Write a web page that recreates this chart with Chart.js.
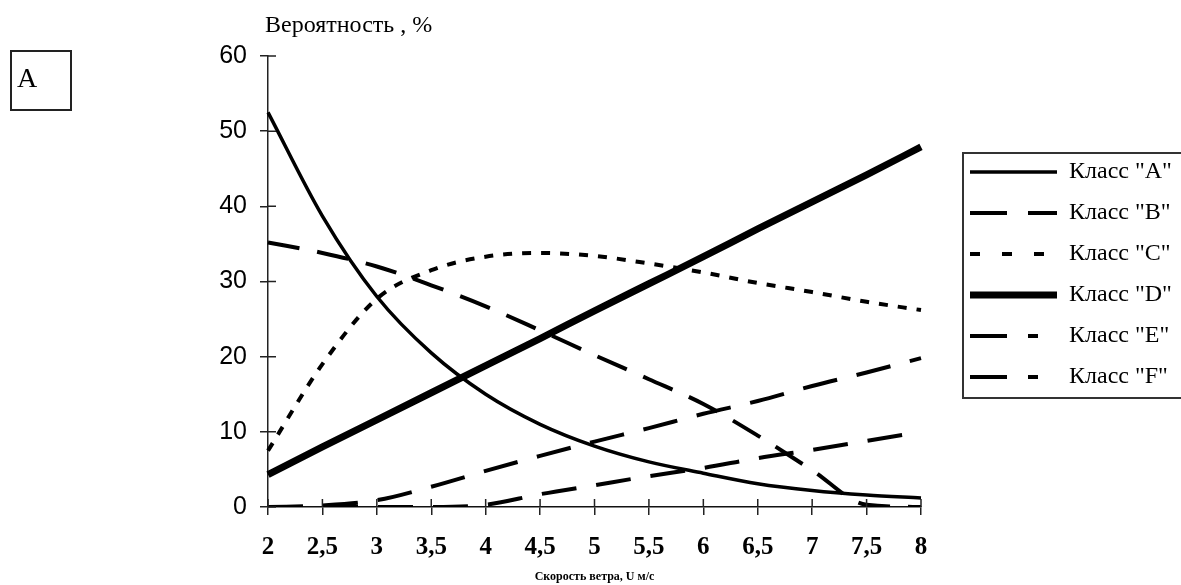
<!DOCTYPE html>
<html>
<head>
<meta charset="utf-8">
<script src="https://cdn.jsdelivr.net/npm/chart.js@4.4.8/dist/chart.umd.min.js"></script>
<style>
  html, body { margin: 0; padding: 0; background: #fff; }
  #wrap { width: 1181px; height: 585px; }
</style>
</head>
<body>
<div id="wrap"><canvas id="probChart" width="1181" height="585"></canvas></div>
<script>
const windSpeed = ["2", "2,5", "3", "3,5", "4", "4,5", "5", "5,5", "6", "6,5", "7", "7,5", "8"];

const classA = [52.5, 38.7, 28, 20.5, 15, 11, 8.1, 6, 4.5, 3.1, 2.2, 1.6, 1.2];
const classB = [35.2, 33.8, 32, 29.5, 26.7, 23.5, 20.2, 17, 13.7, 9.5, 4.9, 0.3, 0];
const classC = [7.5, 19, 27.7, 31.5, 33.3, 33.8, 33.4, 32.4, 31.2, 29.8, 28.6, 27.3, 26.2];
const classD = [4.3, 8, 11.6, 15.2, 18.8, 22.4, 26.1, 29.7, 33.3, 37, 40.6, 44.2, 47.9];
const classE = [0, 0.2, 0.9, 2.7, 4.8, 6.8, 8.7, 10.5, 12.4, 14.1, 16.1, 17.9, 19.8];
const classF = [0, 0, 0, 0, 0.3, 1.7, 2.9, 4.1, 5.2, 6.5, 7.6, 8.8, 10];

const seriesNames = ['Класс "A"', 'Класс "B"', 'Класс "C"', 'Класс "D"', 'Класс "E"', 'Класс "F"'];

const serif = "'Liberation Serif', 'Times New Roman', serif";
const sans = "'Liberation Sans', Arial, sans-serif";

// dash used for the short sample in the legend box (differs from the plot, like the original)
const legendDash = [[], [37, 21], [10, 22], [], [37, 21, 10, 40], [37, 21, 10, 40]];

function line(label, data, width, dash) {
  return {
    label,
    data,
    borderColor: "#000",
    backgroundColor: "#000",
    borderWidth: width,
    borderDash: dash,
    pointRadius: 0,
    fill: false,
    cubicInterpolationMode: "monotone"
  };
}

// extra decorations: legend placement + frame, inner ticks, captions
const extras = {
  id: "extras",
  afterLayout(chart) {
    const lg = chart.legend;
    lg.left = 953;
    lg.top = 143;
    lg.right = 1181;
    lg.bottom = 585;
  },
  afterDraw(chart) {
    const ctx = chart.ctx;
    const xs = chart.scales.x;
    const ys = chart.scales.y;
    ctx.save();
    ctx.strokeStyle = "#222";
    ctx.lineWidth = 1.5;
    ctx.beginPath();
    ys.ticks.forEach((t, i) => {
      const py = ys.getPixelForTick(i);
      ctx.moveTo(ys.right, py);
      ctx.lineTo(ys.right + 8, py);
    });
    xs.ticks.forEach((t, i) => {
      const px = xs.getPixelForTick(i);
      ctx.moveTo(px, xs.top);
      ctx.lineTo(px, xs.top - 8);
    });
    ctx.stroke();

    // legend frame
    ctx.strokeStyle = "#333";
    ctx.lineWidth = 2;
    ctx.strokeRect(963, 153, 240, 245);

    // "A" box
    ctx.strokeStyle = "#222";
    ctx.strokeRect(11, 51, 60, 59);
    ctx.fillStyle = "#000";
    ctx.textBaseline = "alphabetic";
    ctx.textAlign = "left";
    ctx.font = "28px " + serif;
    ctx.fillText("A", 17, 87);

    // y title
    ctx.font = "24px " + serif;
    ctx.textBaseline = "middle";
    ctx.fillText("Вероятность , %", 265, 26);
    ctx.restore();
  }
};

new Chart(document.getElementById("probChart"), {
  type: "line",
  data: {
    labels: windSpeed,
    datasets: [
      line(seriesNames[0], classA, 3.5, []),
      line(seriesNames[1], classB, 4, [32, 18]),
      line(seriesNames[2], classC, 4, [9, 10]),
      line(seriesNames[3], classD, 7, []),
      line(seriesNames[4], classE, 4, [35, 20]),
      line(seriesNames[5], classF, 4, [35, 20])
    ]
  },
  options: {
    responsive: false,
    devicePixelRatio: 1,
    animation: false,
    layout: { padding: { left: 0, top: 56, right: 260, bottom: 0 } },
    plugins: {
      tooltip: { enabled: false },
      legend: {
        position: "chartArea",
        align: "start",
        labels: {
          usePointStyle: true,
          pointStyle: "line",
          pointStyleWidth: 87,
          padding: 17,
          color: "#000",
          font: { family: serif, size: 24 },
          generateLabels: (chart) => chart.data.datasets.map((ds, i) => ({
            text: ds.label,
            fillStyle: ds.borderColor,
            strokeStyle: ds.borderColor,
            fontColor: "#000",
            lineWidth: ds.borderWidth,
            lineDash: legendDash[i],
            lineCap: "butt",
            pointStyle: "line",
            hidden: false,
            datasetIndex: i
          }))
        }
      }
    },
    scales: {
      x: {
        offset: false,
        afterFit: (s) => { s.height = 78; },
        grid: { display: true, drawOnChartArea: false, tickLength: 8, color: "#222", lineWidth: 1.5 },
        border: { color: "#111", width: 1.5 },
        ticks: {
          autoSkip: false,
          maxRotation: 0,
          padding: 18,
          color: "#000",
          font: { family: serif, size: 25, weight: "bold" }
        },
        title: {
          display: true,
          text: "Скорость ветра, U м/с",
          color: "#000",
          padding: { top: 0, bottom: 1 },
          font: { family: serif, size: 12, weight: "bold" }
        }
      },
      y: {
        min: 0,
        max: 60,
        afterFit: (s) => { s.width = 268; },
        grid: { display: true, drawOnChartArea: false, tickLength: 8, color: "#222", lineWidth: 1.5 },
        border: { color: "#222", width: 1.5 },
        ticks: {
          stepSize: 10,
          padding: 13,
          color: "#000",
          font: { family: sans, size: 25 }
        }
      }
    }
  },
  plugins: [extras]
});
</script>
</body>
</html>
